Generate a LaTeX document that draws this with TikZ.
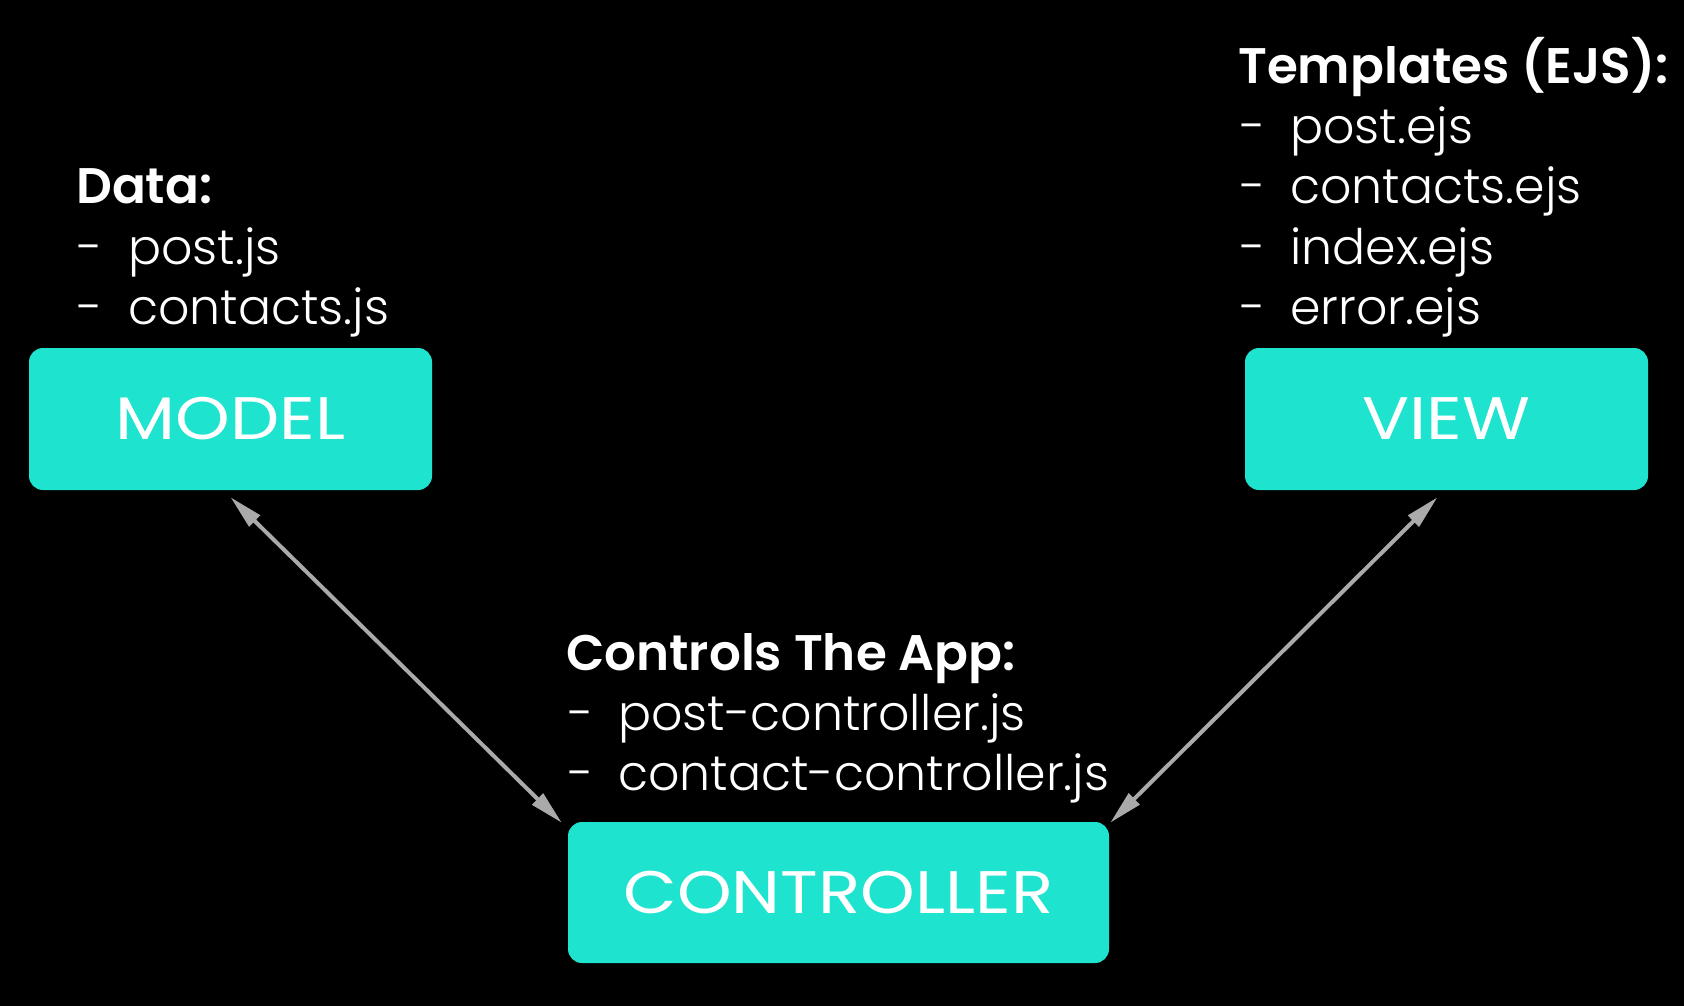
\documentclass[tikz,border=0pt]{standalone}
\usepackage{fontspec}
\setmainfont{Poppins}
\IfFontExistsTF{Poppins Light}{\newfontfamily\lightfont{Poppins Light}}{\newfontfamily\lightfont{Poppins}}
\IfFontExistsTF{Poppins SemiBold}{\newfontfamily\headfont{Poppins SemiBold}}{\newfontfamily\headfont{Poppins Bold}}
\newfontfamily\boxfont[FakeStretch=1.16]{Poppins}
\usetikzlibrary{arrows.meta}
\definecolor{teal1}{RGB}{29,227,207}
\definecolor{arrgray}{RGB}{170,170,170}
\begin{document}
\begin{tikzpicture}[x=1pt,y=-1pt,
  box/.style={fill=teal1, rounded corners=14pt, minimum width=403pt, minimum height=142pt, inner sep=0pt, text=white, font=\boxfont\fontsize{60}{60}\selectfont},
  head/.style={anchor=base west, inner sep=0pt, text=white, font=\headfont\fontsize{50}{60}\selectfont},
  item/.style={anchor=base west, inner sep=0pt, text=white, font=\lightfont\fontsize{49}{60}\selectfont},
  arr/.style={draw=arrgray, line width=4pt, {Triangle[length=34pt,width=15pt]}-{Triangle[length=34pt,width=15pt]}}
]
\fill[black] (0,0) rectangle (1684,1006);
\useasboundingbox (0,0) rectangle (1684,1006);

\node[box] (model) at (230.5,419) {MODEL};
\node[box] (view) at (1446.5,419) {VIEW};
\node[box, minimum width=541pt, minimum height=141pt] (ctrl) at (838.5,892.5) {CONTROLLER};

% Model text
\node[head] (datah) at (76,204) {Data:};
\node[item] (d1) at (77,264) {-};
\node[item] (m1) at (128,264) {post.js};
\node[item] (d2) at (77,324) {-};
\node[item] (m2) at (128,324) {contacts.js};

% View text
\node[head] (tplh) at (1238,84) {Templates (EJS):};
\node[item] (d3) at (1240,144) {-};
\node[item] (v1) at (1290,144) {post.ejs};
\node[item] (d4) at (1240,204) {-};
\node[item] (v2) at (1290,204) {contacts.ejs};
\node[item] (d5) at (1240,264) {-};
\node[item] (v3) at (1290,264) {index.ejs};
\node[item] (d6) at (1240,324) {-};
\node[item] (v4) at (1290,324) {error.ejs};

% Controller text
\node[head] (ctrlh) at (566,670) {Controls The App:};
\node[item] (d7) at (568,730) {-};
\node[item] (c1) at (618,730) {post-controller.js};
\node[item] (d8) at (568,790) {-};
\node[item] (c2) at (618,790) {contact-controller.js};

% Arrows
\draw[arr] ([yshift=-7pt]model.south) -- ([xshift=-6pt,yshift=-1pt]ctrl.north west);
\draw[arr] ([xshift=-9pt,yshift=-7pt]view.south) -- ([xshift=1pt,yshift=-1pt]ctrl.north east);
\end{tikzpicture}
\end{document}
